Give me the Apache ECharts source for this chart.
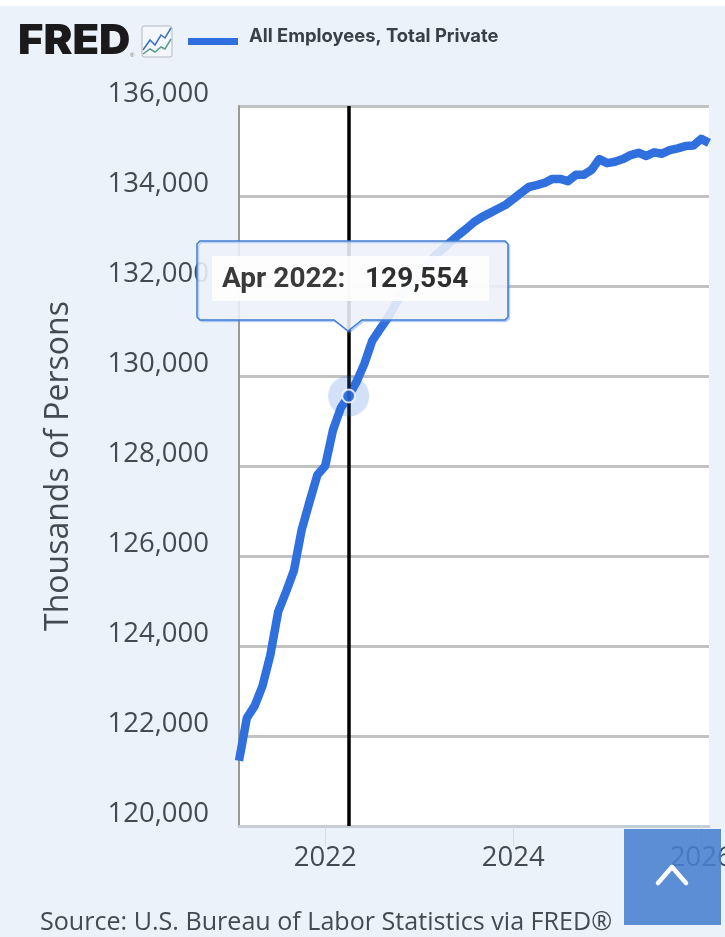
<!DOCTYPE html>
<html><head><meta charset="utf-8">
<style>html,body{margin:0;padding:0;background:#ebf2fa;overflow:hidden}#c{width:725px;height:937px}</style>
<script src="https://cdn.jsdelivr.net/npm/echarts@6/dist/echarts.min.js"></script>
</head><body><div id="c"></div>
<script>
const startYear = 2021, startMonth = 2;
const monthNames = ['Jan','Feb','Mar','Apr','May','Jun','Jul','Aug','Sep','Oct','Nov','Dec'];
const employees = [
121450,122400,122670,123110,123800,124760,125200,125670,126580,127200,127800,
128000,128800,129290,129554,129870,130270,130780,131040,131290,131600,131870,132070,
132310,132490,132670,132820,132980,133130,133270,133420,133530,133620,133710,133800,
133930,134070,134200,134240,134290,134380,134380,134330,134470,134470,134580,134820,
134730,134760,134820,134910,134960,134890,134970,134940,135020,135060,135110,135120,
135270,135180];
const categories = employees.map((_, i) => {
  const m = startMonth - 1 + i;
  return (startYear + Math.floor(m / 12)) + '-' + String(m % 12 + 1).padStart(2, '0');
});
const yearTicks = ['2022-01','2024-01','2026-01'];
const selected = '2022-04';
const seriesName = 'All Employees, Total Private';
const axisTitle = 'Thousands of Persons';
const sourceText = 'Source: U.S. Bureau of Labor Statistics via FRED®';

const selIdx = categories.indexOf(selected);
const selVal = employees[selIdx];
const selLabel = monthNames[+selected.slice(5) - 1] + ' ' + selected.slice(0, 4) + ':';
const BLUE = '#2f6fde';
const FONT = '"Open Sans", sans-serif';
const isYearTick = (i, v) => yearTicks.includes(v);

const chart = echarts.init(document.getElementById('c'), null, {renderer:'canvas', width:725, height:937});
chart.setOption({
  animation:false,
  backgroundColor:'#ebf2fa',
  grid:{left:239, right:16, top:106, bottom:111, show:true, backgroundColor:'#ffffff', borderWidth:0, outerBoundsMode:'none', containLabel:false},
  xAxis:{
    type:'category', data:categories, boundaryGap:false,
    axisLine:{show:true, lineStyle:{color:'#c6cdd7', width:3}},
    axisTick:{show:true, interval:isYearTick, length:20, lineStyle:{color:'#d3dbe7', width:1}},
    axisLabel:{interval:isYearTick, formatter:v => v.slice(0,4), fontFamily:FONT, fontSize:27.5, color:'#434a54', margin:18, hideOverlap:false},
    splitLine:{show:false}
  },
  yAxis:{
    type:'value', min:120000, max:136000, interval:2000,
    name:axisTitle, nameLocation:'middle', nameGap:164,
    nameTextStyle:{fontFamily:FONT, fontSize:32, color:'#434a54'},
    axisLine:{show:true, lineStyle:{color:'#9a9a9a', width:2}},
    axisTick:{show:false},
    axisLabel:{formatter:v => v.toLocaleString('en-US'), fontFamily:FONT, fontSize:27.5, color:'#434a54', margin:30, verticalAlign:'bottom', lineHeight:24},
    splitLine:{show:true, lineStyle:{color:'#c2c2c2', width:3}}
  },
  series:[
    {type:'line', name:seriesName, data:employees, symbol:'none', z:3,
     lineStyle:{color:BLUE, width:8.5, join:'round'}, clip:true,
     markLine:{silent:true, symbol:'none', label:{show:false}, z:4,
       lineStyle:{color:'#000', width:3.5, type:'solid'}, data:[{xAxis:selected}]}},
    {type:'scatter', data:[[selected, selVal]], symbolSize:41, silent:true, z:5,
     itemStyle:{color:'rgba(47,111,222,0.27)'}},
    {type:'scatter', data:[[selected, selVal]], symbolSize:13, silent:true, z:6,
     itemStyle:{color:BLUE, borderColor:'#fff', borderWidth:2}}
  ],
  graphic:{elements:[
    {type:'rect', shape:{x:0,y:0,width:725,height:6}, style:{fill:'#fff'}, z:50},
    // logo
    {type:'text', x:18, y:21, z:50, scaleX:1.06, style:{text:'FRED', font:'900 41px Inter, "Liberation Sans", sans-serif', fill:'#1a1a1a'}},
    {type:'text', x:130, y:52, z:50, style:{text:'®', font:'6px "Liberation Sans", sans-serif', fill:'#777'}},
    {type:'rect', shape:{x:142,y:26,width:30,height:31,r:2}, style:{fill:'#f3f6fa', stroke:'#b5b9bf', lineWidth:1}, z:50},
    {type:'polyline', shape:{points:[[143,50],[150,40],[155,45],[161,35],[165,38],[171,28]]}, style:{stroke:'#3a6fc9', fill:'none', lineWidth:1.5}, z:51},
    {type:'polyline', shape:{points:[[143,54],[150,49],[155,52],[161,47],[165,49],[171,39]]}, style:{stroke:'#5d9c8c', fill:'none', lineWidth:1.5}, z:51},
    // legend
    {type:'rect', shape:{x:188,y:38,width:50,height:7}, style:{fill:BLUE}, z:50},
    {type:'text', x:249, y:27, z:50, style:{text:seriesName, font:'700 18.4px Inter, Roboto, sans-serif', fill:'#3a4049'}},
    // tooltip
    {type:'polygon', z:60, shape:{points:[[200,241],[505,241],[508,244],[508,317],[505,320],[362,320],[348,331],[334,320],[200,320],[197,317],[197,244]]},
     style:{fill:'rgba(246,246,249,0.84)', stroke:'#3f7bd2', lineWidth:1.5, shadowColor:'rgba(90,150,235,0.35)', shadowOffsetX:1.5, shadowOffsetY:1.5, shadowBlur:0}},
    {type:'rect', z:61, shape:{x:212,y:256,width:277,height:45}, style:{fill:'rgba(255,255,255,0.85)'}},
    {type:'text', x:222, y:266, z:62, style:{text:selLabel, font:'700 28px Roboto, sans-serif', fill:'#3a3a3a'}},
    {type:'text', x:365, y:266, z:62, style:{text:selVal.toLocaleString('en-US'), font:'700 28px Roboto, sans-serif', fill:'#2e2e2e'}},
    // scroll button
    {type:'rect', z:70, shape:{x:624,y:829,width:97,height:96}, style:{fill:'rgba(71,127,206,0.88)'}},
    {type:'polyline', z:71, shape:{points:[[658,883],[672,867],[686,883]]}, style:{stroke:'#fff', fill:'none', lineWidth:4.5, lineCap:'round', lineJoin:'round'}},
    // source
    {type:'text', x:40, y:910, z:50, style:{text:sourceText, font:'25.1px "Open Sans", sans-serif', fill:'#434a54'}}
  ]}
});
</script></body></html>
